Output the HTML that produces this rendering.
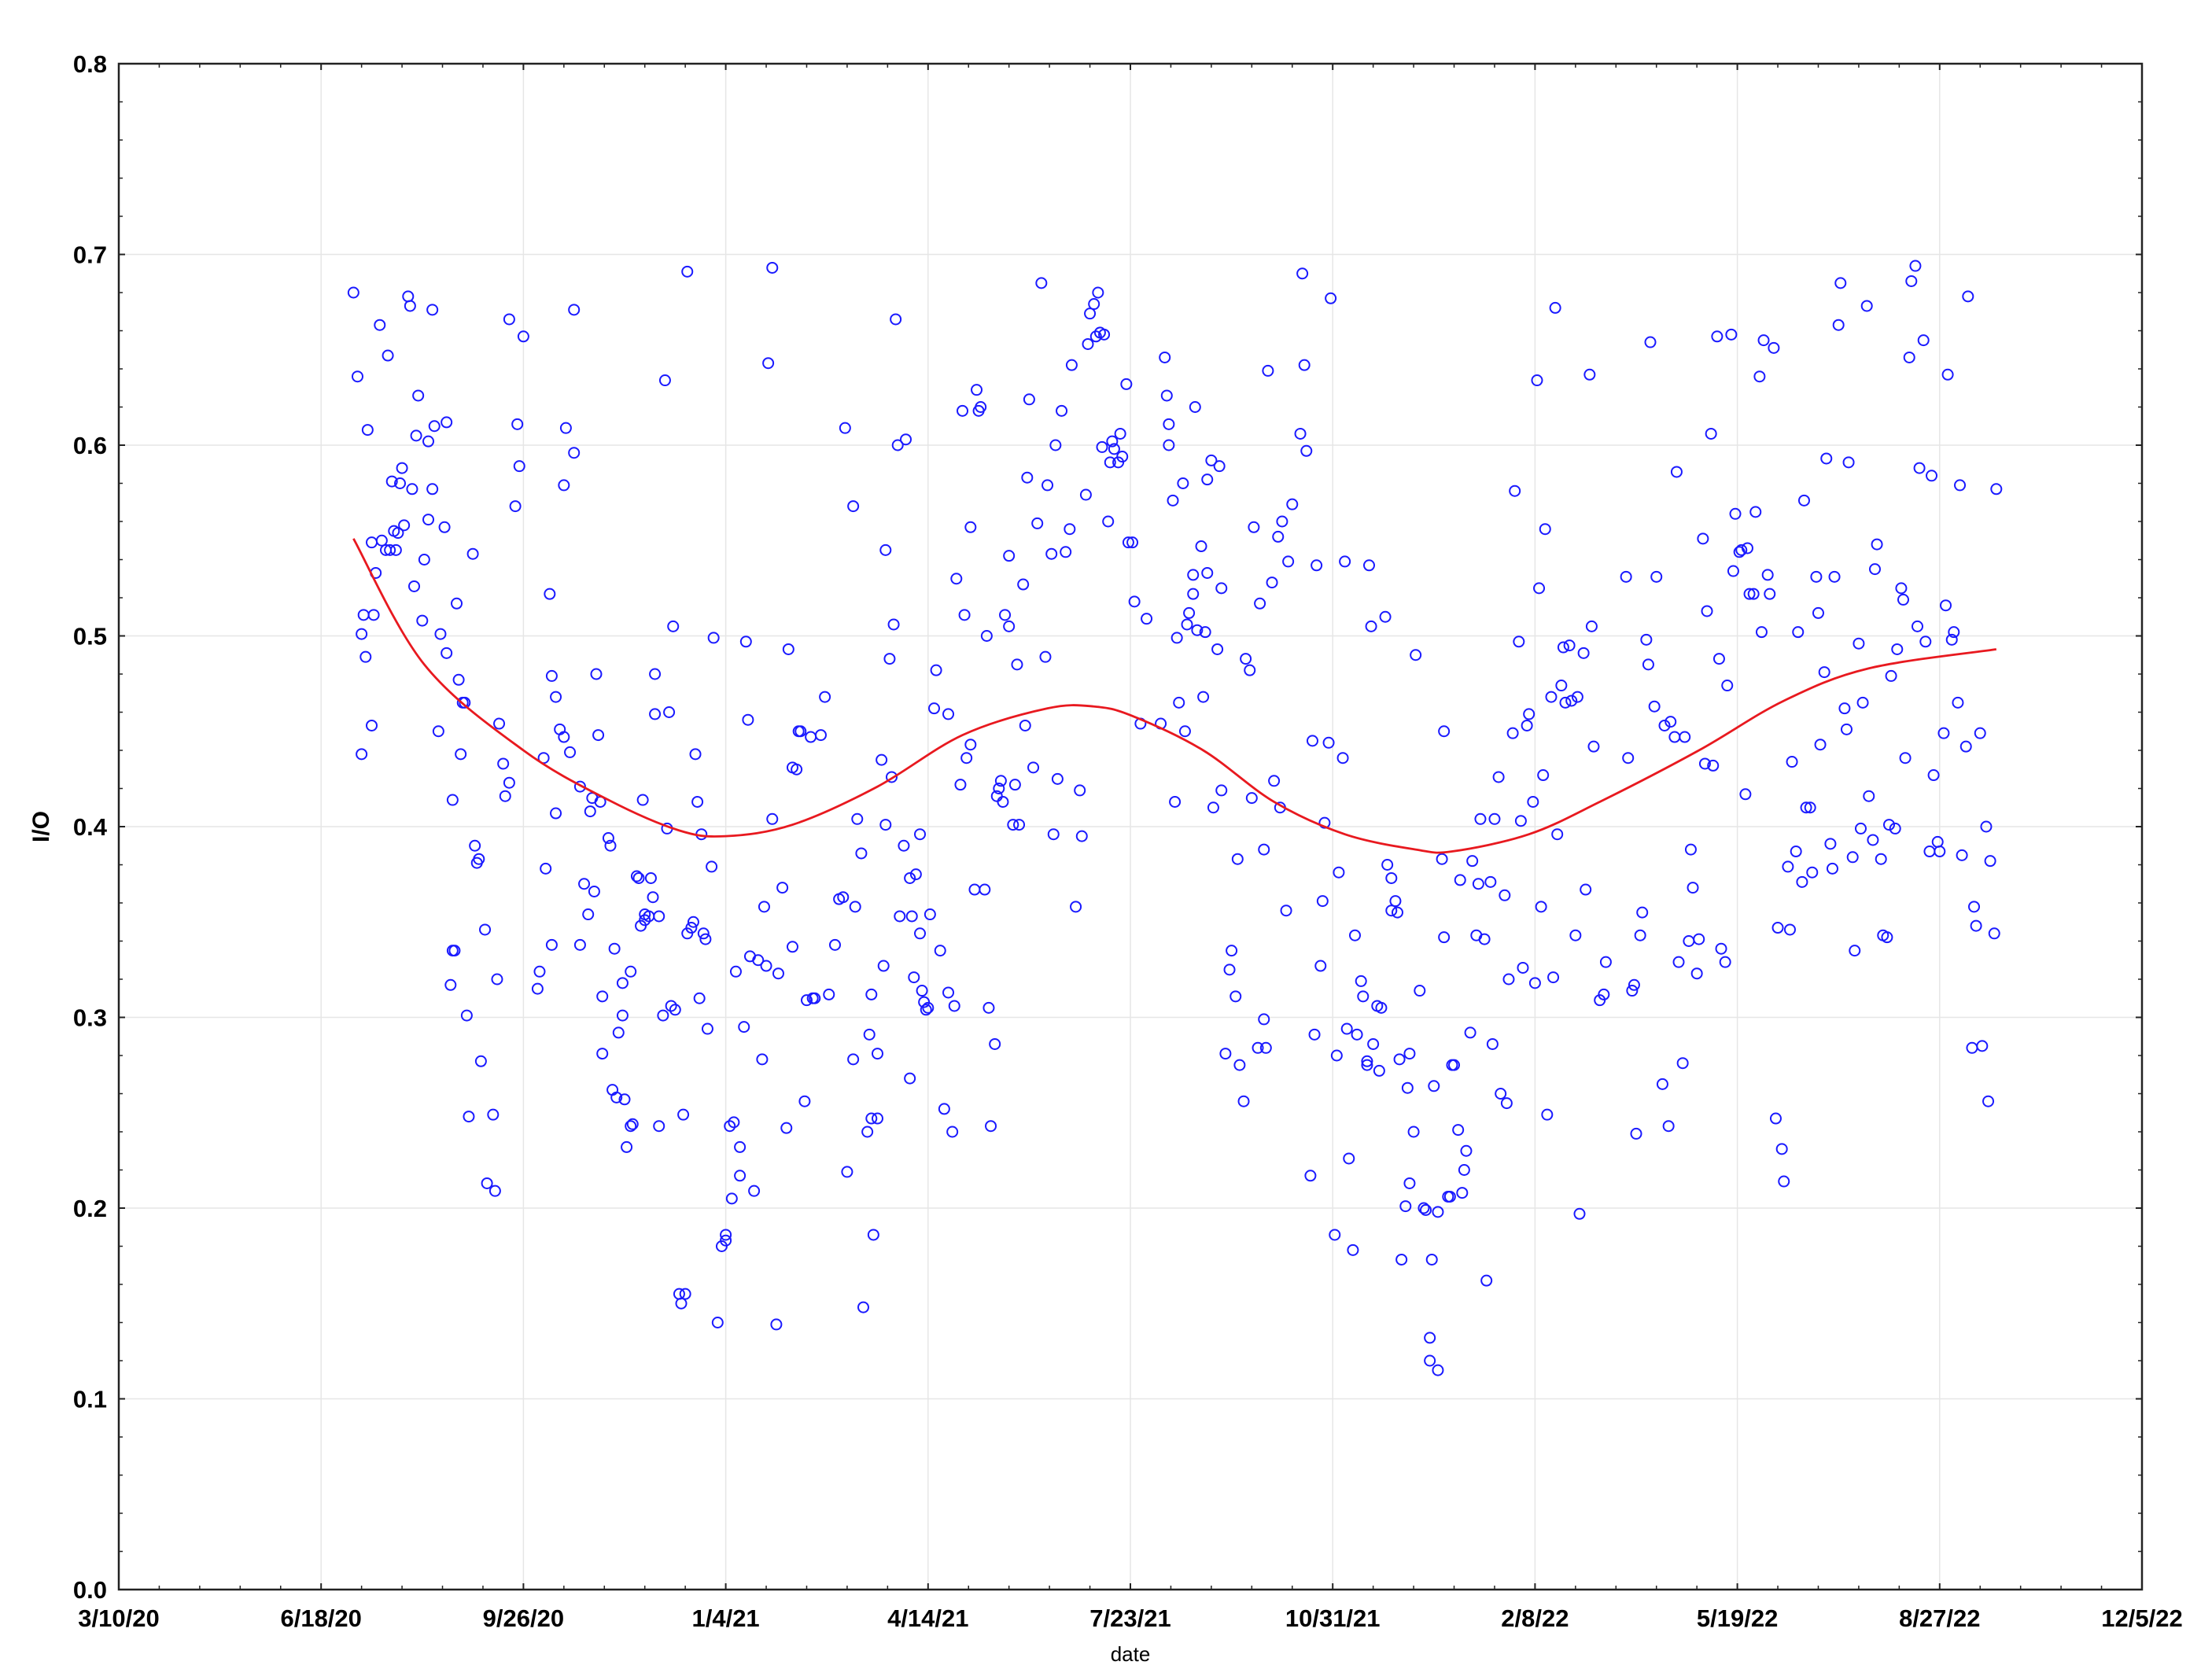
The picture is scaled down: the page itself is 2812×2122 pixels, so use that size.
<!DOCTYPE html>
<html><head><meta charset="utf-8"><style>
html,body{margin:0;padding:0;background:#fff}
svg{display:block}
text{font-family:"Liberation Sans",Arial,sans-serif}
</style></head><body>
<svg id="chart" width="2812" height="2122" viewBox="0 0 2812 2122" xmlns="http://www.w3.org/2000/svg">
<g id="grid"></g>
<g id="axes"></g>
<g id="points"></g>
<g id="trend"></g>
<text x="0" y="0" transform="translate(62,1051) rotate(-90)" text-anchor="middle" font-size="30" font-weight="bold">I/O</text>
<text x="1437" y="2112" text-anchor="middle" font-size="26">date</text>
</svg>
<script>
// x: days since 3/10/20
const xTickLabels=["3/10/20","6/18/20","9/26/20","1/4/21","4/14/21","7/23/21","10/31/21","2/8/22","5/19/22","8/27/22","12/5/22"];
const yTickLabels=["0.0","0.1","0.2","0.3","0.4","0.5","0.6","0.7","0.8"];
const days=[116,118,120,120,121,122,123,125,125,126,127,129,130,132,133,134,135,136,137,138,139,140,141,143,144,145,146,147,148,150,151,153,153,155,155,156,158,159,161,162,162,164,165,165,166,167,168,169,170,171,172,173,175,176,177,178,179,181,182,185,186,187,188,190,191,193,193,196,197,198,200,207,208,210,211,213,214,214,216,216,218,220,220,221,223,225,225,228,228,230,232,233,234,235,236,237,238,239,239,242,243,244,245,246,247,249,249,250,251,253,253,254,256,257,258,259,260,260,262,263,264,265,265,267,267,269,270,271,272,273,274,275,277,278,279,280,281,281,283,284,285,286,287,288,289,290,291,293,294,296,298,300,300,302,303,304,305,307,307,309,310,311,312,314,316,318,319,320,321,323,323,325,326,328,330,331,333,333,335,336,337,339,340,342,343,344,347,349,351,354,356,358,359,360,363,363,364,365,367,368,370,371,372,372,373,375,375,377,378,379,379,381,382,383,384,385,386,388,389,391,391,392,393,394,396,396,397,398,399,400,401,403,404,406,408,410,410,412,413,414,416,417,418,419,421,421,423,424,425,426,428,429,430,431,433,434,435,436,437,438,440,440,442,443,444,445,447,448,449,450,452,454,456,458,459,461,462,463,464,466,468,470,471,473,475,476,478,479,480,482,483,484,485,486,487,489,490,491,492,494,495,496,498,499,501,502,505,508,515,517,518,519,519,521,522,523,524,526,527,528,529,531,531,532,533,535,536,537,538,538,540,541,543,544,545,545,547,549,550,552,553,554,556,557,559,560,561,563,564,566,566,567,568,570,571,573,574,575,577,578,580,584,585,586,587,589,590,591,592,594,595,596,598,599,601,602,603,605,606,607,608,610,611,612,614,615,617,617,618,619,620,622,623,624,626,627,629,629,631,632,633,634,636,637,638,638,640,641,643,645,646,648,648,649,650,652,652,654,655,655,657,658,659,660,662,663,664,665,666,668,669,671,672,673,675,676,678,679,680,682,683,685,686,687,689,690,692,693,694,696,697,699,700,701,702,703,704,705,706,708,709,710,711,713,714,715,717,718,720,721,722,724,725,727,728,729,732,734,735,745,746,748,749,750,752,753,755,756,757,759,760,763,764,766,767,769,770,771,773,774,776,777,778,780,781,783,784,785,787,788,790,791,792,794,795,797,798,799,801,802,804,805,806,808,809,811,812,813,815,816,818,819,820,822,823,825,826,827,829,830,832,833,834,836,837,839,840,841,843,844,846,847,848,850,851,853,854,855,857,858,860,861,862,864,865,867,868,869,871,872,874,875,876,878,879,881,882,883,885,886,888,889,890,892,893,895,896,897,899,900,902,903,904,906,907,909,910,911,913,914,916,917,918,920,921,923,924,925,927,928];
const ioValues=[.680,.636,.501,.438,.511,.489,.608,.549,.453,.511,.533,.663,.550,.545,.647,.545,.581,.555,.545,.554,.580,.588,.558,.678,.673,.577,.526,.605,.626,.508,.540,.602,.561,.671,.577,.610,.450,.501,.557,.491,.612,.317,.414,.335,.335,.517,.477,.438,.465,.465,.301,.248,.543,.390,.381,.383,.277,.346,.213,.249,.209,.320,.454,.433,.416,.423,.666,.568,.611,.589,.657,.315,.324,.436,.378,.522,.479,.338,.407,.468,.451,.447,.579,.609,.439,.671,.596,.421,.338,.370,.354,.408,.415,.366,.480,.448,.413,.311,.281,.394,.390,.262,.336,.258,.292,.318,.301,.257,.232,.324,.243,.244,.374,.373,.348,.414,.354,.351,.353,.373,.363,.480,.459,.243,.353,.301,.634,.399,.460,.306,.505,.304,.155,.150,.249,.155,.344,.691,.347,.350,.438,.413,.310,.396,.344,.341,.294,.379,.499,.140,.180,.186,.183,.243,.205,.245,.324,.232,.217,.295,.497,.456,.332,.209,.330,.278,.358,.327,.643,.693,.404,.139,.323,.368,.242,.493,.431,.337,.430,.450,.450,.256,.309,.447,.310,.310,.448,.468,.312,.338,.362,.363,.609,.219,.278,.568,.358,.404,.386,.148,.240,.291,.312,.247,.186,.247,.281,.435,.327,.401,.545,.488,.426,.506,.666,.600,.353,.390,.603,.373,.268,.353,.321,.375,.396,.344,.314,.308,.304,.305,.354,.462,.482,.335,.252,.459,.313,.240,.306,.530,.422,.618,.511,.436,.443,.557,.367,.629,.618,.620,.367,.500,.305,.243,.286,.416,.420,.424,.413,.511,.505,.542,.401,.422,.485,.401,.527,.453,.583,.624,.431,.559,.685,.489,.579,.543,.396,.600,.425,.618,.544,.556,.642,.358,.419,.395,.574,.653,.669,.674,.657,.680,.659,.599,.658,.560,.591,.602,.598,.591,.606,.594,.632,.549,.549,.518,.454,.509,.454,.646,.626,.600,.611,.571,.413,.499,.465,.580,.450,.506,.512,.532,.522,.620,.503,.547,.468,.502,.582,.533,.592,.410,.493,.589,.525,.419,.281,.325,.335,.311,.383,.275,.256,.488,.482,.415,.557,.284,.517,.388,.299,.284,.639,.528,.424,.552,.410,.560,.356,.539,.569,.606,.690,.642,.597,.217,.445,.291,.537,.327,.361,.402,.444,.677,.186,.280,.376,.436,.539,.294,.226,.178,.343,.291,.319,.311,.277,.275,.537,.505,.286,.306,.272,.305,.510,.380,.373,.356,.361,.355,.278,.173,.201,.263,.213,.281,.240,.490,.314,.200,.199,.120,.132,.173,.264,.115,.198,.383,.450,.342,.206,.206,.275,.275,.241,.372,.208,.220,.230,.292,.382,.343,.370,.404,.341,.162,.371,.286,.404,.426,.260,.364,.255,.320,.449,.576,.497,.403,.326,.453,.459,.413,.318,.634,.525,.358,.427,.556,.249,.468,.321,.672,.396,.474,.494,.465,.495,.466,.343,.468,.197,.491,.367,.637,.505,.442,.309,.312,.329,.531,.436,.314,.317,.239,.343,.355,.498,.485,.654,.463,.531,.265,.453,.243,.455,.447,.586,.329,.276,.447,.340,.388,.368,.323,.341,.551,.433,.513,.606,.432,.657,.488,.336,.329,.474,.658,.534,.564,.544,.545,.417,.546,.522,.522,.565,.636,.502,.655,.532,.522,.651,.247,.347,.231,.214,.379,.346,.434,.387,.502,.371,.571,.410,.410,.376,.531,.512,.443,.481,.593,.391,.378,.531,.663,.685,.462,.451,.591,.384,.335,.496,.399,.465,.673,.416,.393,.535,.548,.383,.343,.342,.401,.479,.399,.493,.525,.519,.436,.646,.686,.694,.505,.588,.655,.497,.387,.584,.427,.392,.387,.449,.516,.637,.498,.502,.465,.579,.385,.442,.678,.284,.358,.348,.449,.285,.400,.256,.382,.344,.577];
const trendDays=[116,151,200,242,277,300,333,375,417,459,482,501,536,571,606,641,659,697,732,781,823,865,928];
const trendValues=[.551,.485,.440,.414,.398,.395,.401,.421,.448,.462,.463,.458,.440,.413,.396,.388,.387,.396,.413,.440,.466,.483,.493];

const L=151,R=2723,T=81,B=2021,NS="http://www.w3.org/2000/svg";
const xMax=(xTickLabels.length-1)*100, yMax=0.8;
const xs=d=>L+d/xMax*(R-L);
const ys=v=>B-v/yMax*(B-T);
function mk(tag,attrs,parent){const e=document.createElementNS(NS,tag);for(const k in attrs)e.setAttribute(k,attrs[k]);parent.appendChild(e);return e;}
const grid=document.getElementById('grid'),axes=document.getElementById('axes'),pts=document.getElementById('points'),tr=document.getElementById('trend');
xTickLabels.forEach((lab,i)=>{
  const x=xs(i*100);
  if(i>0&&i<xTickLabels.length-1){const g=mk('line',{x1:x,x2:x,y1:T,y2:B,stroke:'#e6e6e6','stroke-width':1.5},grid);
  
  }
  const t=mk('text',{x:x,y:2068,'text-anchor':'middle','font-size':31,'font-weight':'bold'},axes);t.textContent=lab;
  
  
  for(const yy of [B,T]){mk('line',{x1:x,x2:x,y1:yy,y2:yy===B?yy-8:yy+8,stroke:'#222','stroke-width':2},axes);}
  if(i<xTickLabels.length-1)for(let m=1;m<5;m++){const xm=xs(i*100+m*20);for(const yy of [B,T])mk('line',{x1:xm,x2:xm,y1:yy,y2:yy===B?yy-5:yy+5,stroke:'#222','stroke-width':1.5},axes);}
});
yTickLabels.forEach((lab,i)=>{
  const v=i*0.1,y=ys(v);
  if(i>0&&i<yTickLabels.length-1){const g=mk('line',{x1:L,x2:R,y1:y,y2:y,stroke:'#e6e6e6','stroke-width':1.5},grid);
  
  }
  const t=mk('text',{x:136,y:y+11,'text-anchor':'end','font-size':31,'font-weight':'bold'},axes);t.textContent=lab;
  
  
  for(const xx of [L,R])mk('line',{x1:xx,x2:xx===L?xx+8:xx-8,y1:y,y2:y,stroke:'#222','stroke-width':2},axes);
  if(i<yTickLabels.length-1)for(let m=1;m<5;m++){const ym=ys(v+m*0.02);for(const xx of [L,R])mk('line',{x1:xx,x2:xx===L?xx+5:xx-5,y1:ym,y2:ym,stroke:'#222','stroke-width':1.5},axes);}
});
const frame=mk('rect',{x:L,y:T,width:R-L,height:B-T,fill:'none',stroke:'#222','stroke-width':2.5},axes);


days.forEach((d,i)=>{
  const c=mk('circle',{cx:xs(d),cy:ys(ioValues[i]),r:6.5,fill:'none',stroke:'#1a1aff','stroke-width':2},pts);
  
  
});
// smooth curve through trend points (Catmull-Rom)
const P=trendDays.map((d,i)=>[xs(d),ys(trendValues[i])]);
let dstr='M'+P[0][0]+','+P[0][1];
for(let i=0;i<P.length-1;i++){const p0=P[i-1]||P[i],p1=P[i],p2=P[i+1],p3=P[i+2]||P[i+1];
  const c1=[p1[0]+(p2[0]-p0[0])/6,p1[1]+(p2[1]-p0[1])/6],c2=[p2[0]-(p3[0]-p1[0])/6,p2[1]-(p3[1]-p1[1])/6];
  dstr+=` C${c1[0]},${c1[1]} ${c2[0]},${c2[1]} ${p2[0]},${p2[1]}`;}
const line=mk('path',{d:dstr,fill:'none',stroke:'#e8191f','stroke-width':2.8},tr);


</script>
</body></html>
